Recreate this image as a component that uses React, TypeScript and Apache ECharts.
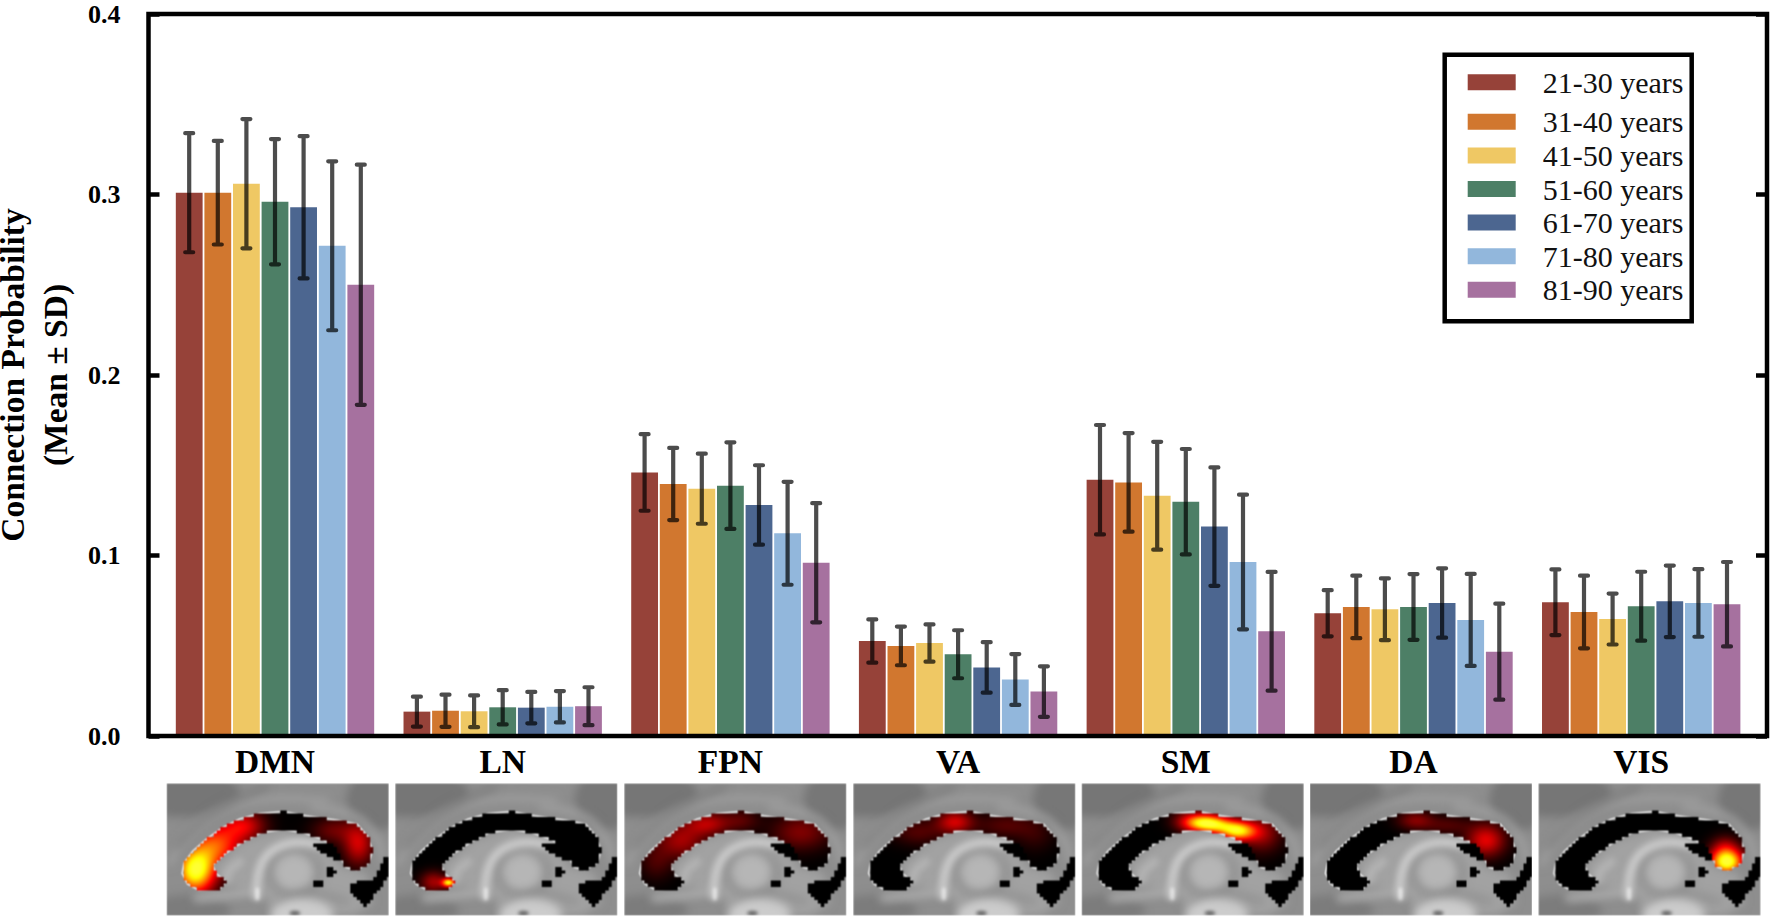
import { useEffect, useRef } from "react";
import * as echarts from "echarts";

const FONT = "Liberation Serif";

const networks = ["DMN", "LN", "FPN", "VA", "SM", "DA", "VIS"];
const ageGroups = ["21-30 years", "31-40 years", "41-50 years", "51-60 years", "61-70 years", "71-80 years", "81-90 years"];
const ageColors = ["#964239", "#D1772F", "#EFC864", "#4D7F66", "#4C6690", "#92B7DC", "#A6719F"];
const yTicks = [0, 0.1, 0.2, 0.3, 0.4];

// values per network, same order as networks
const mean21 = [0.301, 0.0135, 0.146, 0.0526, 0.142, 0.068, 0.0741];
const mean31 = [0.301, 0.014, 0.1396, 0.0499, 0.1405, 0.0715, 0.0687];
const mean41 = [0.306, 0.0137, 0.137, 0.0515, 0.1331, 0.0702, 0.0648];
const mean51 = [0.296, 0.0159, 0.1387, 0.0453, 0.1298, 0.0715, 0.0719];
const mean61 = [0.2929, 0.0157, 0.128, 0.038, 0.116, 0.0737, 0.0746];
const mean71 = [0.2716, 0.0162, 0.1123, 0.0313, 0.0964, 0.0643, 0.0737];
const mean81 = [0.25, 0.0165, 0.096, 0.0246, 0.058, 0.0467, 0.073];

const sd21 = [0.033, 0.0083, 0.0212, 0.012, 0.0303, 0.0128, 0.0182];
const sd31 = [0.0287, 0.0089, 0.02, 0.0107, 0.0273, 0.0173, 0.0201];
const sd41 = [0.0358, 0.0088, 0.0194, 0.0103, 0.0299, 0.0171, 0.0141];
const sd51 = [0.0347, 0.0095, 0.024, 0.0133, 0.0292, 0.0182, 0.0191];
const sd61 = [0.0394, 0.0087, 0.022, 0.014, 0.0328, 0.0192, 0.0198];
const sd71 = [0.0468, 0.0087, 0.0285, 0.0141, 0.0373, 0.0255, 0.0187];
const sd81 = [0.0665, 0.0105, 0.033, 0.014, 0.0329, 0.0266, 0.0234];

const means = [mean21, mean31, mean41, mean51, mean61, mean71, mean81];
const sds = [sd21, sd31, sd41, sd51, sd61, sd71, sd81];

const BAR_PITCH = 28.6;

// brain slices: drawn once on a canvas, in a 667x397 space
const SLICE_W = 667;
const SLICE_H = 397;
const sliceLeft = [166.7, 395.3, 624.3, 853.3, 1081.7, 1310, 1538.5];

const callosum = [[95, 320], [62, 302], [46, 270], [52, 238], [78, 203], [118, 168], [168, 132], [218, 107], [280, 90], [350, 84], [420, 97], [510, 110], [572, 122], [603, 158], [618, 200], [608, 238], [570, 260], [538, 252], [522, 222], [507, 192], [468, 168], [410, 148], [350, 138], [282, 148], [232, 173], [172, 213], [138, 245], [148, 270], [178, 295], [157, 318]];
const darkSpots = [
    [[443, 180], [480, 175], [505, 190], [525, 225], [520, 233], [485, 215], [450, 200]],
    [[475, 255], [500, 250], [510, 270], [490, 280], [475, 270]],
    [[443, 290], [465, 290], [465, 310], [443, 310]],
    [[550, 305], [585, 287], [615, 295], [645, 245], [648, 220], [667, 220], [667, 275], [620, 340], [595, 370], [570, 345], [548, 320]],
];

// [x, y, sigmaX, sigmaY, strength] per slice
const heatBlobs = [
    [[85, 262, 42, 48, 0.95], [150, 185, 55, 45, 0.55], [230, 125, 45, 30, 0.36], [575, 180, 32, 45, 0.36], [500, 140, 45, 28, 0.18]],
    [[160, 297, 14, 9, 0.85], [115, 295, 28, 22, 0.28]],
    [[250, 120, 45, 25, 0.3], [170, 170, 50, 38, 0.28], [95, 235, 35, 38, 0.12], [530, 145, 60, 38, 0.22], [350, 110, 40, 24, 0.14]],
    [[305, 115, 38, 24, 0.36], [195, 145, 55, 28, 0.14], [455, 125, 60, 26, 0.14], [545, 155, 40, 35, 0.08]],
    [[370, 118, 40, 18, 0.85], [420, 128, 36, 18, 0.35], [470, 142, 36, 20, 0.8], [320, 110, 36, 24, 0.2], [540, 150, 40, 38, 0.26]],
    [[316, 110, 38, 20, 0.22], [528, 170, 40, 34, 0.4], [413, 125, 50, 20, 0.13]],
    [[565, 235, 34, 26, 1.0], [560, 190, 30, 24, 0.24]],
];

function polyPath(points: number[][]) {
    const p = new Path2D();
    points.forEach(([x, y], i) => (i ? p.lineTo(x, y) : p.moveTo(x, y)));
    p.closePath();
    return p;
}

function strokeCurve(ctx: CanvasRenderingContext2D, pts: number[][], color: string, width: number) {
    ctx.strokeStyle = color;
    ctx.lineWidth = width;
    ctx.lineCap = "round";
    ctx.beginPath();
    ctx.moveTo(pts[0][0], pts[0][1]);
    for (let i = 1; i < pts.length - 1; i++) {
        const mx = (pts[i][0] + pts[i + 1][0]) / 2;
        const my = (pts[i][1] + pts[i + 1][1]) / 2;
        ctx.quadraticCurveTo(pts[i][0], pts[i][1], mx, my);
    }
    const last = pts[pts.length - 1];
    ctx.lineTo(last[0], last[1]);
    ctx.stroke();
}

function ellipse(ctx: CanvasRenderingContext2D, x: number, y: number, rx: number, ry: number, color: string) {
    ctx.fillStyle = color;
    ctx.beginPath();
    ctx.ellipse(x, y, rx, ry, 0, 0, Math.PI * 2);
    ctx.fill();
}

function paintBackdrop(ctx: CanvasRenderingContext2D) {
    ctx.fillStyle = "#8e8e8e";
    ctx.fillRect(0, 0, SLICE_W, SLICE_H);
    ctx.filter = "blur(9px)";
    // outer folds
    ellipse(ctx, 50, 30, 170, 70, "#767676");
    ellipse(ctx, 630, 50, 90, 90, "#777777");
    strokeCurve(ctx, [[10, 240], [60, 130], [250, 40], [480, 50]], "#9e9e9e", 20);
    strokeCurve(ctx, [[30, 190], [110, 90], [300, 10]], "#7a7a7a", 14);
    strokeCurve(ctx, [[440, 70], [560, 80], [640, 170], [650, 230]], "#a0a0a0", 20);
    ellipse(ctx, 70, 380, 120, 45, "#7c7c7c");
    // tissue under the arc
    ctx.fillStyle = "#a2a2a2";
    ctx.fill(polyPath([[135, 250], [230, 170], [350, 135], [470, 165], [525, 250], [600, 270], [620, 360], [560, 397], [340, 397], [280, 335], [170, 305]]));
    strokeCurve(ctx, [[90, 345], [180, 335], [270, 325]], "#b0b0b0", 22);
    ellipse(ctx, 385, 270, 85, 72, "#929292");
    ctx.filter = "blur(7px)";
    strokeCurve(ctx, [[270, 340], [268, 280], [300, 205], [385, 170], [490, 190]], "#cdcdcd", 24);
    strokeCurve(ctx, [[220, 235], [185, 258], [178, 290]], "#b4b4b4", 26);
    ctx.filter = "blur(9px)";
    ellipse(ctx, 382, 266, 60, 56, "#b6b6b6");
    strokeCurve(ctx, [[320, 390], [350, 345], [440, 325], [540, 355]], "#8c8c8c", 14);
    ellipse(ctx, 405, 395, 95, 48, "#cccccc");
    ctx.filter = "blur(3px)";
    ellipse(ctx, 385, 390, 16, 7, "#606060");
    strokeCurve(ctx, [[272, 318], [272, 345]], "#ececec", 10);
    ctx.filter = "none";
}

function hot(v: number) {
    const r = Math.min(1, v / 0.45);
    const g = Math.max(0, Math.min(1, (v - 0.45) / 0.45));
    const b = Math.max(0, Math.min(1, (v - 0.9) / 0.1)) * 0.2;
    return [r * 255, g * 255, b * 255];
}

function makeSlice(blobs: number[][]) {
    const scale = 444 / SLICE_W;
    const w = 444;
    const h = Math.round(SLICE_H * scale);
    const canvas = document.createElement("canvas");
    canvas.width = w;
    canvas.height = h;
    const ctx = canvas.getContext("2d")!;
    ctx.scale(scale, scale);
    paintBackdrop(ctx);

    const arc = polyPath(callosum);
    ctx.strokeStyle = "rgba(235,235,235,0.9)";
    ctx.lineWidth = 5;
    ctx.lineJoin = "round";
    ctx.stroke(arc);

    // stair-stepped voxel mask
    const cell = 10;
    const inArc = (x: number, y: number) => ctx.isPointInPath(arc, x * scale, y * scale);
    const spots = darkSpots.map(polyPath);
    const inSpot = (x: number, y: number) => spots.some((s) => ctx.isPointInPath(s, x * scale, y * scale));
    const cols = Math.ceil(SLICE_W / cell);
    const rows = Math.ceil(SLICE_H / cell);
    const mask: number[] = [];
    for (let r = 0; r < rows; r++) {
        for (let c = 0; c < cols; c++) {
            const x = (c + 0.5) * cell;
            const y = (r + 0.5) * cell;
            mask.push(inArc(x, y) ? 1 : inSpot(x, y) ? 2 : 0);
        }
    }

    const img = ctx.getImageData(0, 0, w, h);
    for (let py = 0; py < h; py++) {
        for (let px = 0; px < w; px++) {
            const x = px / scale;
            const y = py / scale;
            const m = mask[Math.floor(y / cell) * cols + Math.floor(x / cell)];
            if (!m) continue;
            let v = 0;
            if (m === 1) {
                for (const [bx, by, sx, sy, a] of blobs) {
                    v += a * Math.exp(-0.5 * (((x - bx) / sx) ** 2 + ((y - by) / sy) ** 2));
                }
            }
            const [cr, cg, cb] = hot(v);
            const i = (py * w + px) * 4;
            img.data[i] = cr;
            img.data[i + 1] = cg;
            img.data[i + 2] = cb;
        }
    }
    ctx.putImageData(img, 0, 0);

    const out = document.createElement("canvas");
    out.width = w;
    out.height = h;
    const octx = out.getContext("2d")!;
    octx.filter = "blur(0.8px)";
    octx.drawImage(canvas, 0, 0);
    return out.toDataURL("image/png");
}

function renderErrorBar(_: any, api: any) {
    const net = api.value(0);
    const age = api.value(3);
    const top = api.coord([net, api.value(2)]);
    const bottom = api.coord([net, api.value(1)]);
    const x = top[0] + (age - 3) * BAR_PITCH;
    return {
        type: "polyline",
        silent: true,
        shape: {
            points: [
                [x - 4, top[1]],
                [x + 4, top[1]],
                [x, top[1]],
                [x, bottom[1]],
                [x - 4, bottom[1]],
                [x + 4, bottom[1]],
            ],
        },
        style: { fill: "none", stroke: "rgba(0,0,0,0.7)", lineWidth: 4.2, lineCap: "round", lineJoin: "round" },
    };
}

const legendCommon = {
    left: 1467.7,
    orient: "vertical" as const,
    padding: 0,
    icon: "rect",
    itemWidth: 48,
    itemHeight: 16,
    selectedMode: false,
    textStyle: { fontFamily: FONT, fontSize: 30, color: "#111", lineHeight: 30, height: 30, padding: [3, 0, 0, 22] },
};

const frameAxis = {
    min: 0,
    max: 0.4,
    interval: 0.1,
    gridIndex: 0,
    type: "value" as const,
    axisLine: { show: false },
    axisTick: { show: true, inside: true, length: 11, lineStyle: { color: "#000", width: 4.5 } },
    splitLine: { show: false },
};

export default function App() {
    const ref = useRef<HTMLDivElement | null>(null);

    useEffect(() => {
        document.body.style.margin = "0";
        const chart = echarts.init(ref.current!, undefined, { renderer: "svg" });

        const errorData = means.flatMap((row, age) => row.map((m, net) => [net, m - sds[age][net], m + sds[age][net], age]));

        chart.setOption({
            animation: false,
            backgroundColor: "#fff",
            legend: [
                { ...legendCommon, top: 65.8, data: ageGroups.slice(0, 1) },
                { ...legendCommon, top: 105.3, itemGap: 0.6, data: ageGroups.slice(1) },
            ],
            grid: [
                { left: 148.5, top: 14, width: 1618.5, height: 722, outerBoundsMode: "none", show: true, z: 10, borderColor: "#000", borderWidth: 4.5, backgroundColor: "transparent" },
                { left: 161.15, top: 14, width: 1593.9, height: 722, outerBoundsMode: "none" },
            ],
            xAxis: [
                { type: "value", gridIndex: 0, show: false, min: 0, max: 1, splitLine: { show: false } },
                {
                    type: "category",
                    gridIndex: 1,
                    data: networks,
                    axisLine: { show: false },
                    axisTick: { show: false },
                    axisLabel: { fontFamily: FONT, fontWeight: "bold", fontSize: 33.5, color: "#000", margin: 8 },
                },
            ],
            yAxis: [
                {
                    ...frameAxis,
                    position: "left",
                    name: "Connection Probability\n(Mean ± SD)",
                    nameLocation: "middle",
                    nameRotate: 90,
                    nameGap: 71,
                    nameTextStyle: { fontFamily: FONT, fontWeight: "bold", fontSize: 33.5, color: "#000", lineHeight: 43 },
                    axisLabel: {
                        fontFamily: FONT,
                        fontWeight: "bold",
                        fontSize: 26,
                        color: "#000",
                        margin: 28,
                        customValues: yTicks,
                        formatter: (v: number) => v.toFixed(1),
                    },
                },
                { ...frameAxis, position: "right", axisLabel: { show: false } },
                { type: "value", gridIndex: 1, show: false, min: 0, max: 0.4, splitLine: { show: false } },
            ],
            series: [
                ...ageGroups.map((name, i) => ({
                    name,
                    type: "bar",
                    xAxisIndex: 1,
                    yAxisIndex: 2,
                    barWidth: 26.8,
                    barGap: "6.7%",
                    itemStyle: { color: ageColors[i] },
                    data: means[i],
                })),
                {
                    name: "SD",
                    type: "custom",
                    xAxisIndex: 1,
                    yAxisIndex: 2,
                    z: 5,
                    clip: false,
                    encode: { x: 0, y: [1, 2] },
                    renderItem: renderErrorBar,
                    data: errorData,
                },
            ],
            graphic: [
                {
                    type: "rect",
                    z: 3,
                    silent: true,
                    shape: { x: 1444.7, y: 54.7, width: 247, height: 266.6 },
                    style: { fill: "none", stroke: "#000", lineWidth: 4.5 },
                },
                ...heatBlobs.map((blobs, i) => ({
                    type: "image",
                    silent: true,
                    x: sliceLeft[i],
                    y: 783.3,
                    style: { image: makeSlice(blobs), width: 222, height: 132.3 },
                })),
            ],
        });

        return () => chart.dispose();
    }, []);

    return <div ref={ref} style={{ width: 1772, height: 920 }} />;
}
